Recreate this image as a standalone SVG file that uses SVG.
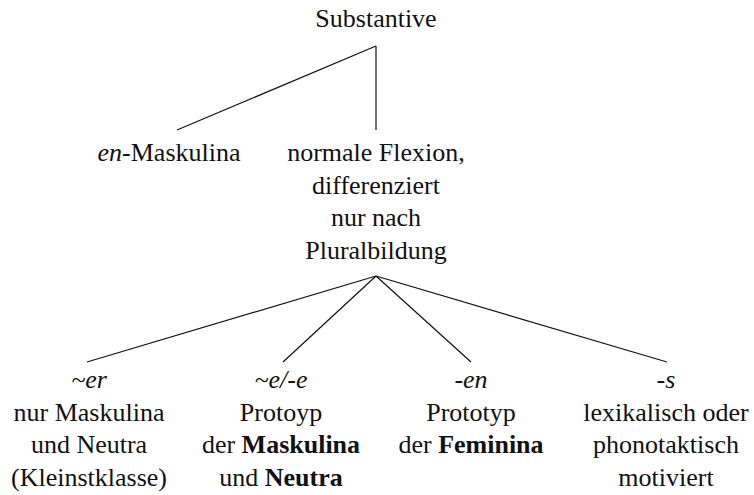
<svg xmlns="http://www.w3.org/2000/svg" width="754" height="495" viewBox="0 0 754 495">
<rect width="754" height="495" fill="#fff"/>
<g id="connectors" stroke="#111" stroke-width="1.2">
<line x1="376" y1="46" x2="177" y2="130"/>
<line x1="376" y1="46" x2="376" y2="130"/>
<line x1="376" y1="276" x2="87" y2="362"/>
<line x1="376" y1="276" x2="283" y2="362"/>
<line x1="376" y1="276" x2="471" y2="362"/>
<line x1="376" y1="276" x2="667" y2="362"/>
</g>
<g id="root"><text style="font-family:'Liberation Serif','Times New Roman',serif;font-size:26px" fill="#111" text-anchor="middle" x="376" y="27">Substantive</text></g>
<g id="en-maskulina"><text style="font-family:'Liberation Serif','Times New Roman',serif;font-size:26px" fill="#111" text-anchor="middle" x="169" y="161"><tspan font-style="italic">en</tspan>-Maskulina</text></g>
<g id="normale"><text style="font-family:'Liberation Serif','Times New Roman',serif;font-size:26px" fill="#111" text-anchor="middle" x="376" y="161">normale Flexion,</text><text style="font-family:'Liberation Serif','Times New Roman',serif;font-size:26px" fill="#111" text-anchor="middle" x="376" y="193.5">differenziert</text><text style="font-family:'Liberation Serif','Times New Roman',serif;font-size:26px" fill="#111" text-anchor="middle" x="376" y="226">nur nach</text><text style="font-family:'Liberation Serif','Times New Roman',serif;font-size:26px" fill="#111" text-anchor="middle" x="376" y="258.5">Pluralbildung</text></g>
<g id="er"><text style="font-family:'Liberation Serif','Times New Roman',serif;font-size:26px" fill="#111" text-anchor="middle" font-style="italic" x="89" y="388">~er</text><text style="font-family:'Liberation Serif','Times New Roman',serif;font-size:26px" fill="#111" text-anchor="middle" x="89" y="420.5">nur Maskulina</text><text style="font-family:'Liberation Serif','Times New Roman',serif;font-size:26px" fill="#111" text-anchor="middle" x="89" y="453">und Neutra</text><text style="font-family:'Liberation Serif','Times New Roman',serif;font-size:26px" fill="#111" text-anchor="middle" x="89" y="485.5">(Kleinstklasse)</text></g>
<g id="e"><text style="font-family:'Liberation Serif','Times New Roman',serif;font-size:26px" fill="#111" text-anchor="middle" font-style="italic" x="281" y="388">~e/-e</text><text style="font-family:'Liberation Serif','Times New Roman',serif;font-size:26px" fill="#111" text-anchor="middle" x="281" y="420.5">Protoyp</text><text style="font-family:'Liberation Serif','Times New Roman',serif;font-size:26px" fill="#111" text-anchor="middle" x="281" y="453">der <tspan font-weight="bold">Maskulina</tspan></text><text style="font-family:'Liberation Serif','Times New Roman',serif;font-size:26px" fill="#111" text-anchor="middle" x="281" y="485.5">und <tspan font-weight="bold">Neutra</tspan></text></g>
<g id="en"><text style="font-family:'Liberation Serif','Times New Roman',serif;font-size:26px" fill="#111" text-anchor="middle" font-style="italic" x="471" y="388">-en</text><text style="font-family:'Liberation Serif','Times New Roman',serif;font-size:26px" fill="#111" text-anchor="middle" x="471" y="420.5">Prototyp</text><text style="font-family:'Liberation Serif','Times New Roman',serif;font-size:26px" fill="#111" text-anchor="middle" x="471" y="453">der <tspan font-weight="bold">Feminina</tspan></text></g>
<g id="s"><text style="font-family:'Liberation Serif','Times New Roman',serif;font-size:26px" fill="#111" text-anchor="middle" font-style="italic" x="666" y="388">-s</text><text style="font-family:'Liberation Serif','Times New Roman',serif;font-size:26px" fill="#111" text-anchor="middle" x="666" y="420.5">lexikalisch oder</text><text style="font-family:'Liberation Serif','Times New Roman',serif;font-size:26px" fill="#111" text-anchor="middle" x="666" y="453">phonotaktisch</text><text style="font-family:'Liberation Serif','Times New Roman',serif;font-size:26px" fill="#111" text-anchor="middle" x="666" y="485.5">motiviert</text></g>
</svg>
